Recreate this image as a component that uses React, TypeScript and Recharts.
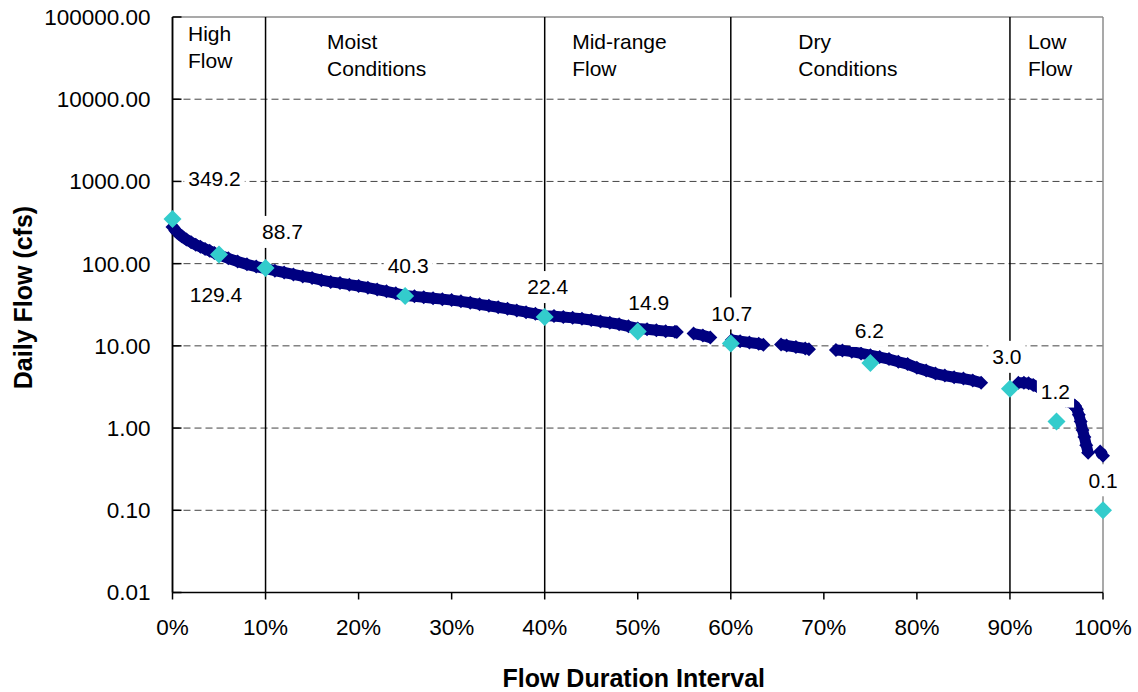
import React from "react";
import { ComposedChart, Line, Scatter, XAxis, YAxis, ReferenceLine } from "recharts";

const FONT = '"Liberation Sans", Arial, Helvetica, sans-serif';

// flow duration curve (percent of time exceeded, daily flow in cfs); null = break in the record
const curvePct = [
  0, 0.5, 1, 1.5, 2, 2.5, 3, 3.5, 4, 4.5, 5, 6, 7, 8, 9, 10, 11, 12, 13, 14, 15, 16, 17, 18, 19, 20,
  21, 22, 23, 24, 25, 26, 27, 28, 29, 30, 31, 32, 33, 34, 35, 36, 37, 38, 39, 40, 41, 42, 43, 44, 45,
  46, 47, 48, 49, 50, 51, 52, 53, 54, 54.2, 55, 56, 57, 57.8, 59, 60.1, 61, 62, 63, 63.5, 64.5, 65.4,
  66, 67, 68, 68.4, 70, 71.3, 72, 73, 74, 75, 76, 77, 78, 79, 80, 81, 82, 83, 84, 85, 86, 86.9, 89,
  90.9, 91.5, 92, 92.5, 93, 94, 95, 96, 96.6, 97, 97.2, 97.4, 97.6, 97.8, 98, 98.2, 98.4, 99, 99.7, 100,
];
const curveCfs = [
  280, 240, 215, 196, 182, 170, 160, 151, 143, 135, 128, 116, 106, 98, 92, 87, 82, 78, 74, 70, 67, 63,
  60, 58, 55.5, 53.5, 51, 48.5, 46, 43.5, 41, 40, 39, 38, 37, 36, 34.8, 33.5, 32, 30.8, 29.5, 28.2, 27,
  25.7, 24.5, 23.3, 23, 22.4, 21.9, 21.4, 20.6, 19.8, 19.1, 18.3, 17.3, 16.3, 15.9, 15.5, 15.1, 14.8,
  14.75, null, 14.1, 13.4, 12.6, null, 11.8, 11.4, 11, 10.6, 10.3, null, 10.4, 10.1, 9.7, 9.3, 9.1,
  null, 8.9, 8.8, 8.5, 8.1, 7.7, 7.3, 6.9, 6.4, 6, 5.4, 5, 4.6, 4.35, 4.15, 4, 3.8, 3.55, null, 3.55,
  3.55, 3.5, 3.35, 3.15, 2.8, 2.45, 2.15, 2, 1.85, 1.7, 1.45, 1.2, 0.95, 0.78, 0.62, 0.5, null, 0.52,
  0.46,
];

// highlighted flow duration intervals
const keyPct = [0, 5, 10, 25, 40, 50, 60, 75, 90, 95, 100];
const keyCfs = [349.2, 129.4, 88.7, 40.3, 22.4, 14.9, 10.7, 6.2, 3.0, 1.2, 0.1];

const xTicks = [0, 10, 20, 30, 40, 50, 60, 70, 80, 90, 100];
const yTicks = [0.01, 0.1, 1, 10, 100, 1000, 10000, 100000];
const gridValues = [0.1, 1, 10, 100, 1000, 10000];

const zoneStarts = [0, 10, 40, 60, 90];
const zoneNames = [
  ["High", "Flow"],
  ["Moist", "Conditions"],
  ["Mid-range", "Flow"],
  ["Dry", "Conditions"],
  ["Low", "Flow"],
];

const curveData = curvePct.map((p, i) => ({ p, q: curveCfs[i] }));
const keyData = keyPct.map((p, i) => ({ p, q: keyCfs[i], i }));

// label placement (text centre relative to the point)
const KEY_LABEL_OFFSET = [
  [42, -40], [-3, 40], [17, -36], [3, -30], [3, -30], [11, -29],
  [1, -30], [-1, -32], [-3, -32], [-1, -30], [0, -30],
];
const ZONE_DX = [15.5, 61.5, 27.5, 67.5, 18];
const ZONE_DY = [23.5, 31.5, 31.5, 31.5, 31.5];
const LABEL_SIZE = 21;
const TICK_SIZE = 22.5;

function diamond(cx: number, cy: number, r: number) {
  return `${cx},${cy - r} ${cx + r},${cy} ${cx},${cy + r} ${cx - r},${cy}`;
}

function CurveDot(props: any) {
  const { cx, cy, value, index } = props;
  if (value == null || cx == null || cy == null || isNaN(cy)) return <g key={`n${index}`} />;
  return <polygon key={`d${index}`} points={diamond(cx, cy, 7)} fill="#000080" />;
}

function KeyPoint(props: any) {
  const { cx, cy, payload } = props;
  if (cx == null || cy == null) return <g />;
  const [dx, dy] = KEY_LABEL_OFFSET[payload.i];
  const txt = Number(payload.q).toFixed(1);
  const w = [...txt].reduce((s, c) => s + (c === "." ? 0.278 : 0.556), 0) * LABEL_SIZE;
  const tx = cx + dx;
  const ty = cy + dy;
  return (
    <g>
      <polygon points={diamond(cx, cy, 9)} fill="#33CCCC" />
      <rect x={tx - w / 2 - 4} y={ty - 16} width={w + 8} height={32} fill="#ffffff" />
      <text x={tx} y={ty} dy="0.35em" textAnchor="middle" fontSize={LABEL_SIZE} fontFamily={FONT} fill="#000">
        {txt}
      </text>
    </g>
  );
}

function YTick(props: any) {
  const { x, y, payload } = props;
  return (
    <g>
      <line x1={x + 22} x2={x + 31} y1={y} y2={y} stroke="#000" strokeWidth={1.5} />
      <text x={x} y={y} dy="0.355em" textAnchor="end" fontSize={TICK_SIZE} fontFamily={FONT} fill="#000">
        {Number(payload.value).toFixed(2)}
      </text>
    </g>
  );
}

const zoneLabel = (i: number) => (props: any) => {
  const vb = props.viewBox || { x: 0, y: 0 };
  const x = vb.x + ZONE_DX[i];
  const y = vb.y + ZONE_DY[i];
  return (
    <text x={x} y={y} fontSize={LABEL_SIZE} fontFamily={FONT} fill="#000">
      <tspan x={x}>{zoneNames[i][0]}</tspan>
      <tspan x={x} dy={27}>{zoneNames[i][1]}</tspan>
    </text>
  );
};

const xTitle = (props: any) => {
  const vb = props.viewBox || { x: 172.5, width: 930.5 };
  return (
    <text x={vb.x + vb.width / 2 - 4} y={687} textAnchor="middle" fontSize={25} fontWeight="bold" fontFamily={FONT} fill="#000">
      Flow Duration Interval
    </text>
  );
};

const yTitle = () => (
  <text transform="translate(32, 297.5) rotate(-90)" textAnchor="middle" fontSize={25} fontWeight="bold" fontFamily={FONT} fill="#000">
    Daily Flow (cfs)
  </text>
);

export default function App() {
  return (
    <div style={{ position: "absolute", left: 0, top: 0, width: 1138, height: 692, background: "#fff" }}>
      <ComposedChart width={1138} height={692} margin={{ top: 17, right: 35, bottom: 0, left: 0 }} style={{ fontFamily: FONT }}>
        <XAxis
          type="number"
          dataKey="p"
          domain={[0, 100]}
          ticks={xTicks}
          interval={0}
          tickFormatter={(v) => `${v}%`}
          height={99.5}
          tickSize={7}
          tickMargin={20}
          tick={{ fontSize: TICK_SIZE, fill: "#000", fontFamily: FONT }}
          tickLine={{ stroke: "#000", strokeWidth: 1.5 }}
          axisLine={{ stroke: "#000", strokeWidth: 1.5 }}
          label={xTitle}
        />
        <YAxis
          type="number"
          dataKey="q"
          scale="log"
          domain={[0.01, 100000]}
          ticks={yTicks}
          interval={0}
          width={172.5}
          tickSize={0}
          tickMargin={22}
          tickLine={false}
          tick={<YTick />}
          axisLine={{ stroke: "#000", strokeWidth: 1.5 }}
          label={yTitle}
        />
        {gridValues.map((v) => (
          <ReferenceLine key={`g${v}`} y={v} stroke="#444" strokeDasharray="7 4" strokeWidth={1} />
        ))}
        <ReferenceLine y={100000} stroke="#8c8c8c" strokeWidth={1.5} />
        <ReferenceLine x={100} stroke="#8c8c8c" strokeWidth={1.5} />
        {zoneStarts.map((s, i) => (
          <ReferenceLine key={`z${s}`} x={s} stroke="#000" strokeWidth={1.5} label={zoneLabel(i)} />
        ))}
        <Line
          data={curveData}
          dataKey="q"
          type="linear"
          stroke="#000080"
          strokeWidth={11}
          dot={CurveDot}
          activeDot={false}
          connectNulls={false}
          isAnimationActive={false}
        />
        <Scatter data={keyData} shape={KeyPoint} isAnimationActive={false} />
      </ComposedChart>
    </div>
  );
}
